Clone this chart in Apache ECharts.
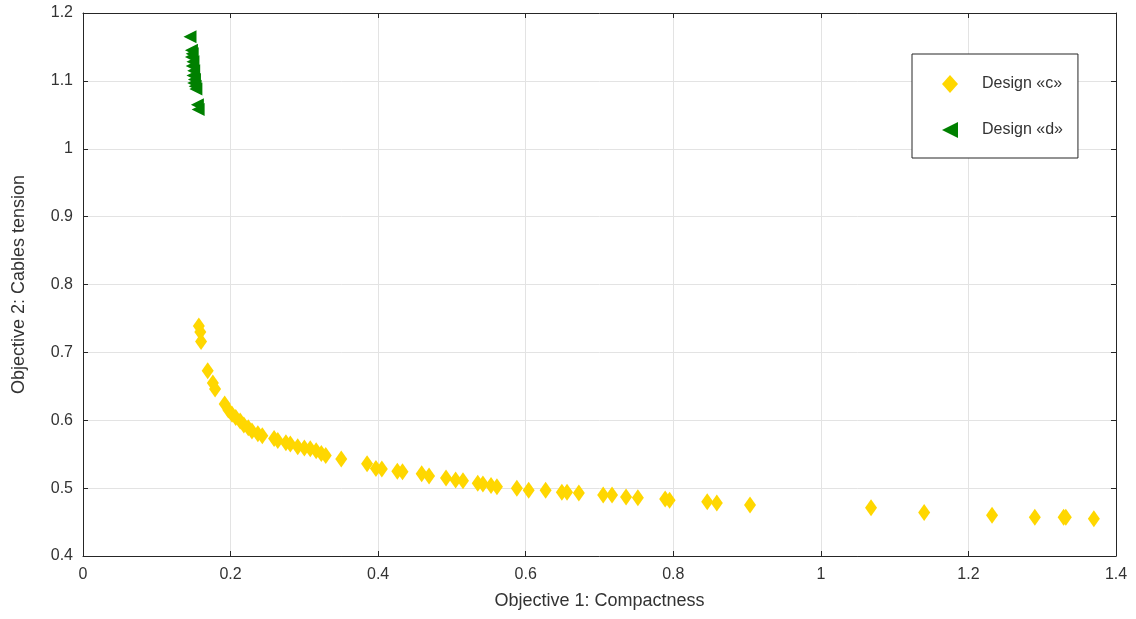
<!DOCTYPE html>
<html>
<head>
<meta charset="utf-8">
<script src="https://cdn.jsdelivr.net/npm/echarts@6/dist/echarts.min.js"></script>
<style>
  html, body { margin: 0; padding: 0; background: #fff; }
  #chart { width: 1136px; height: 619px; }
</style>
</head>
<body>
<div id="chart"></div>
<script>
// Design «c» (yellow diamonds)
const designCX = [0.157, 0.159, 0.160, 0.169, 0.176, 0.179, 0.192, 0.197, 0.202, 0.207,
  0.213, 0.218, 0.224, 0.229, 0.237, 0.243, 0.259, 0.264, 0.275, 0.281,
  0.291, 0.300, 0.308, 0.316, 0.323, 0.329, 0.350, 0.385, 0.397, 0.405,
  0.426, 0.433, 0.459, 0.469, 0.492, 0.505, 0.515, 0.535, 0.542, 0.553,
  0.561, 0.588, 0.604, 0.627, 0.649, 0.656, 0.672, 0.705, 0.717, 0.736,
  0.752, 0.789, 0.795, 0.846, 0.859, 0.904, 1.068, 1.140, 1.232, 1.290,
  1.329, 1.332, 1.370];
const designCY = [0.739, 0.730, 0.716, 0.673, 0.655, 0.646, 0.624, 0.615, 0.609, 0.604,
  0.599, 0.593, 0.589, 0.584, 0.580, 0.577, 0.573, 0.570, 0.567, 0.565,
  0.561, 0.559, 0.558, 0.555, 0.551, 0.548, 0.543, 0.536, 0.529, 0.528,
  0.525, 0.524, 0.521, 0.518, 0.515, 0.512, 0.511, 0.507, 0.506, 0.504,
  0.502, 0.500, 0.497, 0.497, 0.494, 0.494, 0.493, 0.490, 0.490, 0.487,
  0.486, 0.484, 0.482, 0.480, 0.478, 0.475, 0.471, 0.464, 0.460, 0.457,
  0.457, 0.457, 0.455];

// Design «d» (green triangles)
const designDX = [0.145, 0.147, 0.148, 0.147, 0.149, 0.148, 0.150, 0.149, 0.151, 0.150,
  0.152, 0.153, 0.155, 0.156];
const designDY = [1.165, 1.145, 1.140, 1.135, 1.128, 1.122, 1.115, 1.108, 1.102, 1.097,
  1.092, 1.088, 1.065, 1.058];

const xTicks = { min: 0, max: 1.4, interval: 0.2 };
const yTicks = { min: 0.4, max: 1.2, interval: 0.1 };

const zip = (xs, ys) => xs.map((x, i) => [x, ys[i]]);

const fontFamily = "'Liberation Sans', Arial, Helvetica, sans-serif";
const axisColor = "#262626";
const gridColor = "#e3e3e3";
const labelFont = { color: "#333", fontSize: 16, fontFamily: fontFamily };

function mainAxis(range, name, nameGap, margin, fmt) {
  return {
    type: "value",
    min: range.min,
    max: range.max,
    interval: range.interval,
    name: name,
    nameLocation: "middle",
    nameGap: nameGap,
    nameTextStyle: { color: "#333", fontSize: 18, fontFamily: fontFamily },
    axisLine: { show: true, onZero: false, lineStyle: { color: axisColor, width: 1 } },
    axisTick: { show: true, inside: true, length: 5, lineStyle: { color: axisColor } },
    axisLabel: Object.assign({ margin: margin, formatter: fmt }, labelFont),
    splitLine: { show: true, lineStyle: { color: gridColor, width: 1 } },
  };
}

function mirrorAxis(range, position) {
  return {
    type: "value",
    position: position,
    min: range.min,
    max: range.max,
    interval: range.interval,
    axisLine: { show: true, onZero: false, lineStyle: { color: axisColor, width: 1 } },
    axisTick: { show: true, inside: true, length: 5, lineStyle: { color: axisColor } },
    axisLabel: { show: false },
    splitLine: { show: false },
  };
}

const fmtNum = (v) => String(parseFloat(v.toFixed(2)));

const chart = echarts.init(document.getElementById("chart"));
chart.setOption({
  animation: false,
  backgroundColor: "#fff",
  grid: { left: 83, right: 20, top: 13, bottom: 63 },
  legend: {
    orient: "vertical",
    left: 912,
    top: 54,
    padding: [21, 15, 20, 30],
    itemWidth: 16,
    itemHeight: 18,
    itemGap: 29,
    borderColor: axisColor,
    borderWidth: 1,
    backgroundColor: "#fff",
    textStyle: { color: "#333", fontSize: 16, fontFamily: fontFamily, padding: [0, 0, 0, 19] },
    data: ["Design «c»", "Design «d»"],
  },
  xAxis: [
    mainAxis(xTicks, "Objective 1: Compactness", 36, 11, fmtNum),
    mirrorAxis(xTicks, "top"),
  ],
  yAxis: [
    mainAxis(yTicks, "Objective 2: Cables tension", 55, 10, fmtNum),
    mirrorAxis(yTicks, "right"),
  ],
  series: [
    {
      name: "Design «c»",
      type: "scatter",
      symbol: "diamond",
      symbolSize: [12, 17],
      itemStyle: { color: "#FFD700", opacity: 1 },
      data: zip(designCX, designCY),
    },
    {
      name: "Design «d»",
      type: "scatter",
      symbol: "path://M0,5 L10,0 L10,10 Z",
      symbolSize: [13, 13],
      itemStyle: { color: "#008000", opacity: 1 },
      data: zip(designDX, designDY),
    },
  ],
});
</script>
</body>
</html>
